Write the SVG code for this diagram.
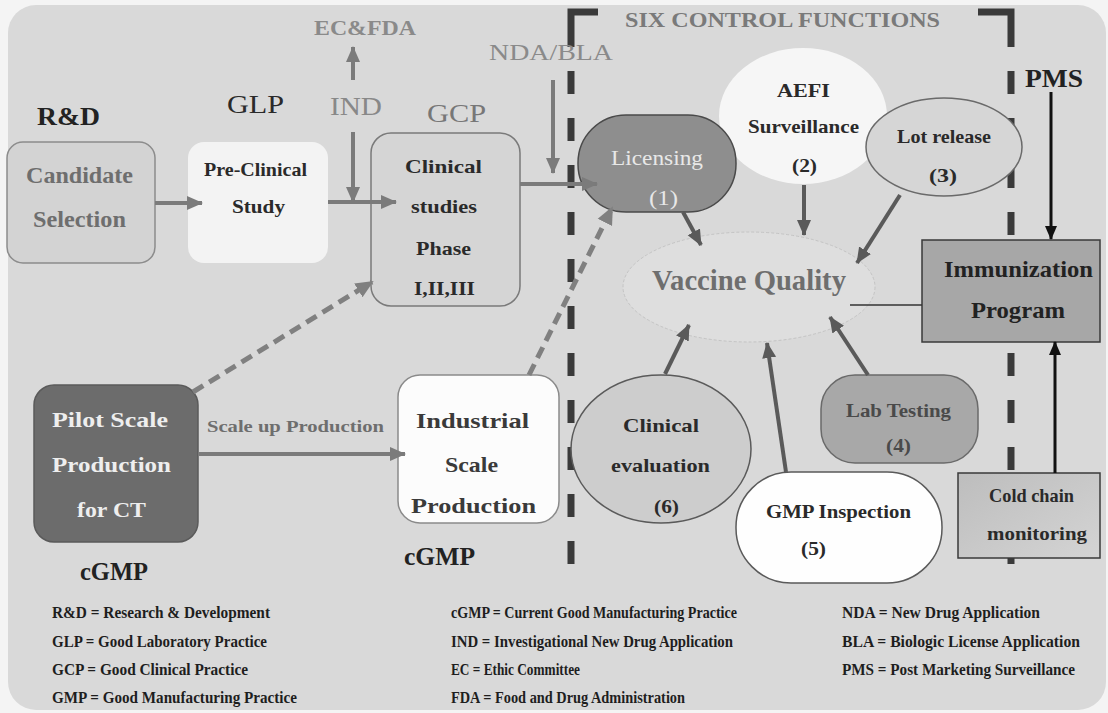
<svg xmlns="http://www.w3.org/2000/svg" width="1108" height="713" viewBox="0 0 1108 713">
<style>
text{font-family:"Liberation Serif","Times New Roman",serif;}
.b{font-weight:bold;}
.hd{font-size:26px;}
.nd{font-size:19px;font-weight:bold;fill:#2a2a2a;}
.lg{font-size:16px;font-weight:bold;fill:#1e1e1e;}
.ga{stroke:#7b7b7b;stroke-width:4;fill:none;}
.da{stroke:#5a5a5a;stroke-width:4;fill:none;}
.ka{stroke:#111;stroke-width:3;fill:none;}
.dash{stroke:#808080;stroke-width:5;fill:none;stroke-dasharray:12 7;}
.frame{stroke:#3a3a3a;stroke-width:7;fill:none;}
</style>
<defs>
<marker id="mg" markerUnits="userSpaceOnUse" markerWidth="16" markerHeight="16" viewBox="0 0 16 16" refX="15" refY="8" orient="auto"><path d="M0,1 L16,8 L0,15 z" fill="#7b7b7b"/></marker>
<marker id="md" markerUnits="userSpaceOnUse" markerWidth="16" markerHeight="16" viewBox="0 0 16 16" refX="15" refY="8" orient="auto"><path d="M0,1 L16,8 L0,15 z" fill="#5a5a5a"/></marker>
<marker id="mk" markerUnits="userSpaceOnUse" markerWidth="14" markerHeight="14" viewBox="0 0 14 14" refX="13" refY="7" orient="auto"><path d="M0,1 L14,7 L0,13 z" fill="#111"/></marker>
<marker id="mgd" markerUnits="userSpaceOnUse" markerWidth="18" markerHeight="18" viewBox="0 0 18 18" refX="16" refY="9" orient="auto"><path d="M0,1 L18,9 L0,17 z" fill="#808080"/></marker>
<linearGradient id="cold" x1="0" y1="0" x2="1" y2="1"><stop offset="0" stop-color="#bdbdbd"/><stop offset="1" stop-color="#d4d4d4"/></linearGradient>
</defs>
<rect x="0" y="0" width="1108" height="713" fill="#f4f4f4"/>
<rect x="8" y="5" width="1098" height="705" rx="28" fill="#d9d9d9"/>

<g id="frame">
<path class="frame" d="M598,12 H571 V47"/>
<path class="frame" d="M571,71 V567" stroke-dasharray="23 24"/>
<path class="frame" d="M978,12 H1011 V47"/>
<path class="frame" d="M1011,71 V573" stroke-dasharray="23 24"/>
</g>

<g id="labels">
<text x="37" y="125" class="hd b" fill="#222" textLength="63" lengthAdjust="spacingAndGlyphs">R&amp;D</text>
<text x="227" y="113" class="hd" fill="#2a2a2a" textLength="57" lengthAdjust="spacingAndGlyphs">GLP</text>
<text x="314" y="35" font-size="22" class="b" fill="#8a8a8a" textLength="102" lengthAdjust="spacingAndGlyphs">EC&amp;FDA</text>
<text x="330" y="115" font-size="25" fill="#888" textLength="52" lengthAdjust="spacingAndGlyphs">IND</text>
<text x="427" y="122" font-size="25" fill="#777" textLength="59" lengthAdjust="spacingAndGlyphs">GCP</text>
<text x="489" y="60" font-size="24" fill="#8a8a8a" textLength="124" lengthAdjust="spacingAndGlyphs">NDA/BLA</text>
<text x="625" y="27" font-size="20" class="b" fill="#7a7a7a" textLength="315" lengthAdjust="spacingAndGlyphs">SIX CONTROL FUNCTIONS</text>
<text x="1025" y="87" class="hd b" fill="#222" textLength="58" lengthAdjust="spacingAndGlyphs">PMS</text>
<text x="80" y="580" class="hd b" fill="#222" textLength="68" lengthAdjust="spacingAndGlyphs">cGMP</text>
<text x="404" y="565" class="hd b" fill="#222" textLength="71" lengthAdjust="spacingAndGlyphs">cGMP</text>
<text x="207" y="432" font-size="16" class="b" fill="#6e6e6e" textLength="177" lengthAdjust="spacingAndGlyphs">Scale up Production</text>
</g>

<g id="candidate">
<rect x="7" y="142" width="148" height="121" rx="16" fill="#d3d3d3" stroke="#8c8c8c" stroke-width="1.5"/>
<text x="26" y="183" font-size="23" class="b" fill="#6e6e6e" textLength="107" lengthAdjust="spacingAndGlyphs">Candidate</text>
<text x="33" y="227" font-size="23" class="b" fill="#6e6e6e" textLength="93" lengthAdjust="spacingAndGlyphs">Selection</text>
</g>
<g id="preclinical">
<rect x="188" y="142" width="140" height="121" rx="16" fill="#f3f3f3"/>
<text x="204" y="176" class="nd" textLength="103" lengthAdjust="spacingAndGlyphs">Pre-Clinical</text>
<text x="232" y="213" class="nd" textLength="53" lengthAdjust="spacingAndGlyphs">Study</text>
</g>
<g id="clinical">
<rect x="371" y="133" width="149" height="173" rx="20" fill="#d5d5d5" stroke="#7a7a7a" stroke-width="1.5"/>
<text x="405" y="173" class="nd" textLength="77" lengthAdjust="spacingAndGlyphs">Clinical</text>
<text x="411" y="213" class="nd" textLength="66" lengthAdjust="spacingAndGlyphs">studies</text>
<text x="416" y="255" class="nd" textLength="55" lengthAdjust="spacingAndGlyphs">Phase</text>
<text x="414" y="295" class="nd" textLength="61" lengthAdjust="spacingAndGlyphs">I,II,III</text>
</g>
<g id="aefi">
<ellipse cx="803" cy="116" rx="84" ry="68" fill="#f6f6f6"/>
<text x="777" y="97" class="nd" font-size="18" textLength="53" lengthAdjust="spacingAndGlyphs">AEFI</text>
<text x="748" y="133" class="nd" font-size="18" textLength="111" lengthAdjust="spacingAndGlyphs">Surveillance</text>
<text x="792" y="172" class="nd" font-size="18" textLength="25" lengthAdjust="spacingAndGlyphs">(2)</text>
</g>
<g id="licensing">
<rect x="578" y="115" width="158" height="97" rx="48" fill="#8e8e8e" stroke="#4a4a4a" stroke-width="1.5"/>
<text x="611" y="165" font-size="21" fill="#e8e8e8" textLength="92" lengthAdjust="spacingAndGlyphs">Licensing</text>
<text x="649" y="205" font-size="21" fill="#e8e8e8" textLength="29" lengthAdjust="spacingAndGlyphs">(1)</text>
</g>
<g id="lotrelease">
<ellipse cx="944" cy="147" rx="78" ry="49" fill="#d6d6d6" stroke="#6a6a6a" stroke-width="1.5"/>
<text x="897" y="143" class="nd" font-size="18" textLength="94" lengthAdjust="spacingAndGlyphs">Lot release</text>
<text x="929" y="182" class="nd" font-size="18" textLength="28" lengthAdjust="spacingAndGlyphs">(3)</text>
</g>
<g id="vaccinequality">
<ellipse cx="749" cy="287" rx="126" ry="55" fill="#dedede" stroke="#c4c4c4" stroke-width="1" stroke-dasharray="3 2"/>
<text x="652" y="290" font-size="30" class="b" fill="#6e6e6e" textLength="194" lengthAdjust="spacingAndGlyphs">Vaccine Quality</text>
</g>
<g id="immunization">
<rect x="922" y="240" width="178" height="102" fill="#a7a7a7" stroke="#3a3a3a" stroke-width="1.5"/>
<text x="944" y="277" font-size="23" class="b" fill="#222" textLength="149" lengthAdjust="spacingAndGlyphs">Immunization</text>
<text x="971" y="318" font-size="23" class="b" fill="#222" textLength="94" lengthAdjust="spacingAndGlyphs">Program</text>
</g>
<g id="clinicaleval">
<ellipse cx="661" cy="449" rx="90" ry="74" fill="#cdcdcd" stroke="#5a5a5a" stroke-width="1.5"/>
<text x="623" y="432" class="nd" font-size="20" textLength="76" lengthAdjust="spacingAndGlyphs">Clinical</text>
<text x="611" y="472" class="nd" font-size="20" textLength="99" lengthAdjust="spacingAndGlyphs">evaluation</text>
<text x="654" y="513" class="nd" font-size="20" textLength="25" lengthAdjust="spacingAndGlyphs">(6)</text>
</g>
<g id="labtesting">
<rect x="821" y="375" width="157" height="88" rx="34" fill="#a8a8a8" stroke="#6a6a6a" stroke-width="1.5"/>
<text x="846" y="417" font-size="18" class="b" fill="#4a4a4a" textLength="105" lengthAdjust="spacingAndGlyphs">Lab Testing</text>
<text x="886" y="452" font-size="18" class="b" fill="#4a4a4a" textLength="25" lengthAdjust="spacingAndGlyphs">(4)</text>
</g>
<g id="gmpinspection">
<rect x="736" y="472" width="206" height="111" rx="55" fill="#fefefe" stroke="#5a5a5a" stroke-width="1.5"/>
<text x="766" y="518" class="nd" font-size="18" textLength="145" lengthAdjust="spacingAndGlyphs">GMP Inspection</text>
<text x="801" y="555" class="nd" font-size="18" textLength="25" lengthAdjust="spacingAndGlyphs">(5)</text>
</g>
<g id="coldchain">
<rect x="958" y="473" width="142" height="85" fill="url(#cold)" stroke="#3a3a3a" stroke-width="1.5"/>
<text x="989" y="502" class="nd" font-size="18" textLength="85" lengthAdjust="spacingAndGlyphs">Cold chain</text>
<text x="987" y="540" class="nd" font-size="18" textLength="100" lengthAdjust="spacingAndGlyphs">monitoring</text>
</g>
<g id="pilot">
<rect x="34" y="385" width="164" height="157" rx="20" fill="#6c6c6c" stroke="#5a5a5a" stroke-width="1.5"/>
<text x="52" y="427" font-size="22" class="b" fill="#eeeeee" textLength="116" lengthAdjust="spacingAndGlyphs">Pilot Scale</text>
<text x="52" y="472" font-size="22" class="b" fill="#eeeeee" textLength="119" lengthAdjust="spacingAndGlyphs">Production</text>
<text x="77" y="517" font-size="22" class="b" fill="#eeeeee" textLength="69" lengthAdjust="spacingAndGlyphs">for CT</text>
</g>
<g id="industrial">
<rect x="398" y="375" width="161" height="148" rx="22" fill="#fcfcfc" stroke="#8a8a8a" stroke-width="1.5"/>
<text x="416" y="428" font-size="22" class="b" fill="#3a3a3a" textLength="113" lengthAdjust="spacingAndGlyphs">Industrial</text>
<text x="445" y="472" font-size="22" class="b" fill="#3a3a3a" textLength="53" lengthAdjust="spacingAndGlyphs">Scale</text>
<text x="411" y="513" font-size="22" class="b" fill="#3a3a3a" textLength="125" lengthAdjust="spacingAndGlyphs">Production</text>
</g>

<g id="connectors">
<path class="ga" d="M155,203 L202,203" marker-end="url(#mg)"/>
<path class="ga" d="M328,202 L396,202" marker-end="url(#mg)"/>
<path class="ga" d="M353,80 L353,47" marker-end="url(#mg)"/>
<path class="ga" d="M353,132 L353,202" marker-end="url(#mg)"/>
<path class="ga" d="M553,80 L553,173" marker-end="url(#mg)"/>
<path class="ga" d="M520,184 L597,184" marker-end="url(#mg)"/>
<path class="ga" d="M198,454 L405,454" marker-end="url(#mg)"/>
<path class="dash" d="M193,392 L372,282" marker-end="url(#mgd)"/>
<path class="dash" d="M529,375 L612,208" marker-end="url(#mgd)"/>
<path class="da" d="M683,212 L701,245" marker-end="url(#md)"/>
<path class="da" d="M804,185 L804,235" marker-end="url(#md)"/>
<path class="da" d="M900,195 L857,263" marker-end="url(#md)"/>
<path class="da" d="M665,374 L689,325" marker-end="url(#md)"/>
<path class="da" d="M786,472 L767,343" marker-end="url(#md)"/>
<path class="da" d="M868,375 L830,317" marker-end="url(#md)"/>
<path class="ka" d="M1051,92 L1051,239" marker-end="url(#mk)"/>
<path class="ka" d="M1055,473 L1055,342" marker-end="url(#mk)"/>
<path d="M850,305 L922,305" stroke="#333" stroke-width="1.5" fill="none"/>
</g>

<g id="legend">
<text x="52" y="618" class="lg" textLength="218" lengthAdjust="spacingAndGlyphs">R&amp;D = Research  &amp; Development</text>
<text x="52" y="647" class="lg" textLength="215" lengthAdjust="spacingAndGlyphs">GLP = Good Laboratory Practice</text>
<text x="52" y="675" class="lg" textLength="196" lengthAdjust="spacingAndGlyphs">GCP = Good Clinical Practice</text>
<text x="52" y="703" class="lg" textLength="245" lengthAdjust="spacingAndGlyphs">GMP = Good Manufacturing Practice</text>
<text x="451" y="618" class="lg" textLength="286" lengthAdjust="spacingAndGlyphs">cGMP = Current Good Manufacturing Practice</text>
<text x="451" y="647" class="lg" textLength="282" lengthAdjust="spacingAndGlyphs">IND = Investigational New  Drug Application</text>
<text x="451" y="675" class="lg" textLength="129" lengthAdjust="spacingAndGlyphs">EC = Ethic Committee</text>
<text x="451" y="703" class="lg" textLength="234" lengthAdjust="spacingAndGlyphs">FDA = Food and Drug Administration</text>
<text x="842" y="618" class="lg" textLength="198" lengthAdjust="spacingAndGlyphs">NDA = New Drug Application</text>
<text x="842" y="647" class="lg" textLength="238" lengthAdjust="spacingAndGlyphs">BLA = Biologic License Application</text>
<text x="842" y="675" class="lg" textLength="233" lengthAdjust="spacingAndGlyphs">PMS = Post Marketing Surveillance</text>
</g>
</svg>
